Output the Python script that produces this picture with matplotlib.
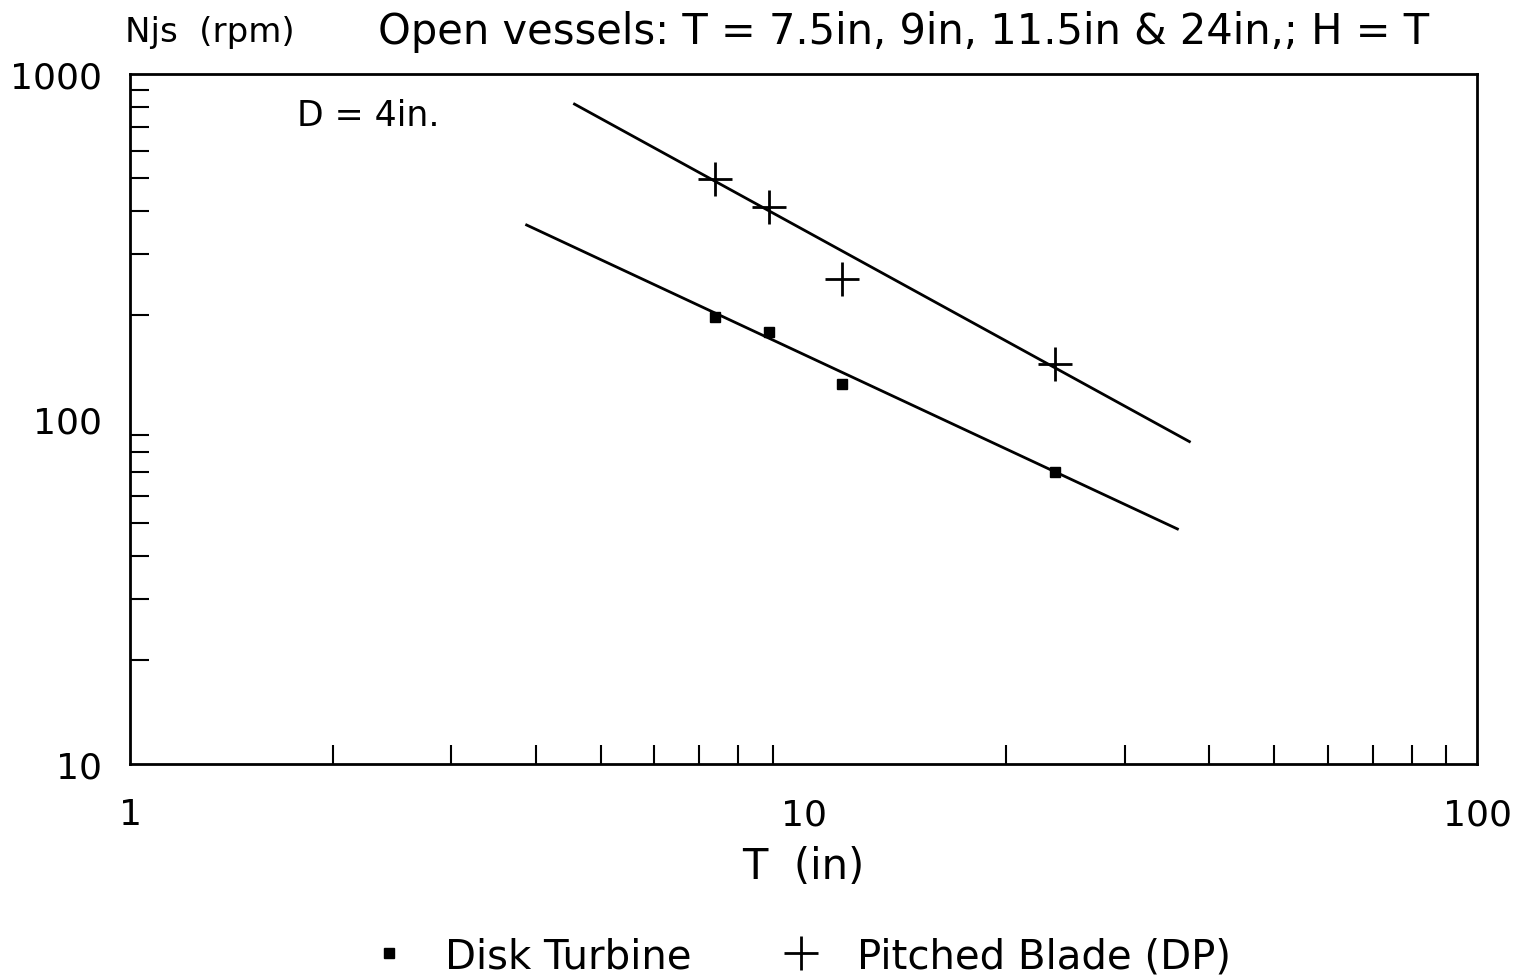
import numpy as np
import matplotlib.pyplot as plt

# vessel diameters (in) and just-suspended speeds (rpm)
tank_T = [7.4, 8.9, 11.4, 23.6]
njs_disk = [198, 179, 126, 70]
njs_pitched = [497, 411, 255, 144]

# fitted lines (end points)
fit_disk_T = [3.88, 35.9]
fit_disk_N = [365, 48]
fit_pitched_T = [4.57, 37.4]
fit_pitched_N = [818, 86]

plt.rcParams['font.family'] = ['DejaVu Sans']

fig = plt.figure(figsize=(15.19, 9.79), dpi=100)
ax = fig.add_axes([0.0856, 0.2186, 0.8868, 0.7048])

ax.plot(fit_pitched_T, fit_pitched_N, color="black", lw=2)
ax.plot(fit_disk_T, fit_disk_N, color="black", lw=2)
ax.plot(tank_T, njs_disk, ls="none", marker="s", ms=7, color="black",
        label="Disk Turbine")
ax.plot(tank_T, njs_pitched, ls="none", marker="+", ms=24, mew=2,
        color="black", label="Pitched Blade (DP)")

ax.set_xscale("log")
ax.set_yscale("log")
ax.set_xlim(1, 100)
ax.set_ylim(10, 1000)
ax.set_xticks([1, 10, 100])
ax.set_xticklabels(["1", "10", "100"])
ax.set_yticks([10, 100, 1000])
ax.set_yticklabels(["10", "100", "1000"])
ax.tick_params(which="both", direction="in", top=False, right=False,
               labelsize=26, width=1.5)
ax.tick_params(which="major", length=0)
ax.tick_params(axis="x", which="major", pad=24)
ax.tick_params(axis="y", which="major", pad=20)
ax.tick_params(which="minor", length=14)
for s in ax.spines.values():
    s.set_linewidth(2)

ax.set_xlabel("T  (in)", fontsize=30, labelpad=10)
ax.text(0.124, 0.94, "D = 4in.", transform=ax.transAxes, fontsize=25,
        va="center")
fig.text(0.082, 0.967, "Njs  (rpm)", fontsize=24.5, va="center")
fig.text(0.249, 0.967, "Open vessels: T = 7.5in, 9in, 11.5in & 24in,; H = T",
         fontsize=30, va="center")

fig.legend(loc="center", bbox_to_anchor=(0.52, 0.022), ncol=2, frameon=False,
           fontsize=29, columnspacing=1.7, handletextpad=0.4)

fig.savefig("out.png", dpi=100)
